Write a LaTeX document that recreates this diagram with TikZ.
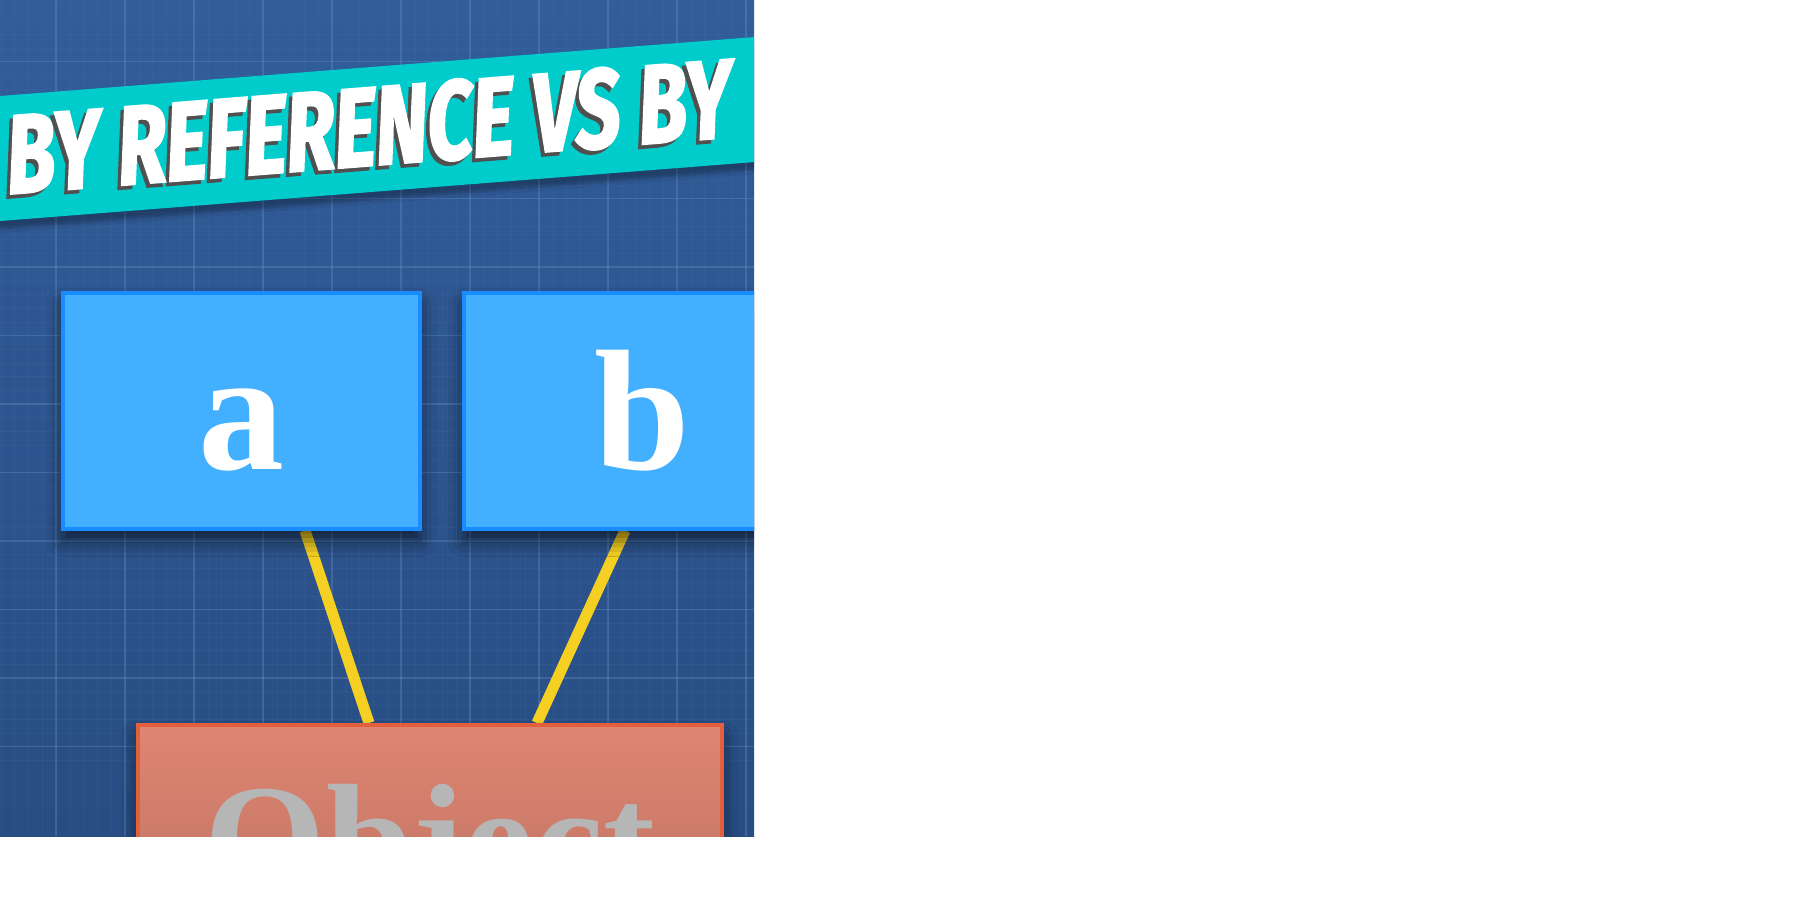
\documentclass[tikz,border=0pt]{standalone}
\usepackage{fontspec}
\usepackage{tikz}
\usetikzlibrary{
  positioning,
  calc,
  backgrounds,
  shadows.blur
}
\setmainfont{Liberation Serif}
\newfontfamily\bannerfont{Fira Sans}[FakeStretch=0.7,FakeSlant=0.12,FakeBold=2]
\definecolor{paneltop}{RGB}{49,93,153}
\definecolor{panelbot}{RGB}{40,77,132}
\definecolor{gridline}{RGB}{110,150,200}
\definecolor{bannerteal}{RGB}{0,204,204}
\definecolor{textshade}{RGB}{80,80,80}
\definecolor{boxblue}{RGB}{66,176,255}
\definecolor{boxedge}{RGB}{25,140,255}
\definecolor{linkyellow}{RGB}{245,208,35}
\definecolor{objtop}{RGB}{222,134,114}
\definecolor{objbot}{RGB}{182,108,94}
\definecolor{objedge}{RGB}{226,96,62}
\definecolor{objtext}{RGB}{182,182,182}

\begin{document}
\begin{tikzpicture}[x=0.5pt,y=-0.5pt,
  var/.style ={draw=boxedge,line width=2pt,fill=boxblue,minimum width=178.5pt,
               minimum height=118pt,inner sep=0pt,text=white,
               font=\fontsize{86}{86}\selectfont\bfseries,
               blur shadow={shadow xshift=0pt,shadow yshift=-6pt,
                            shadow blur radius=8pt,shadow opacity=60}},
  obj/.style ={draw=objedge,line width=2pt,top color=objtop,bottom color=objbot,
               minimum width=292pt,minimum height=130pt,inner sep=0pt,text=objtext,
               font=\fontsize{78}{78}\selectfont\bfseries,
               blur shadow={shadow xshift=0pt,shadow yshift=-6pt,
                            shadow blur radius=8pt,shadow opacity=60}},
  link/.style={draw=linkyellow,line width=5.5pt},
  banner/.style={font=\bannerfont\bfseries\fontsize{56}{56}\selectfont,
                 rotate=4.5,inner sep=0pt},
  minorgrid/.style={draw=gridline,line width=0.3pt,opacity=0.08},
  majorgrid/.style={draw=gridline,line width=0.7pt,opacity=0.3},
]
\useasboundingbox (0,0) rectangle (1802,917);

% boxes
\begin{scope}
  \clip (0,0) rectangle (754,836);
  \node[var] (a)   at (241.5,410.5) {a\vphantom{b}};
  \node[var] (b)   at (642.5,410.5) {b};
  \node[obj] (obj) at (430,855)     {Object};
\end{scope}

\begin{scope}[on background layer]
  \fill[white] (0,0) rectangle (1802,917);
\end{scope}

\begin{scope}[on background layer]
  \clip (0,0) rectangle (754,836);
  \shade[top color=paneltop,bottom color=panelbot] (0,0) rectangle (754,836);
  % blueprint grid
  \foreach \k in {0,...,56}{
    \draw[minorgrid] ({-13+\k*13.8},0) -- ++(0,836);
    \draw[minorgrid] (0,{-7+\k*13.7}) -- ++(754,0);
  }
  \foreach \k in {0,...,11}{
    \draw[majorgrid] ({-13+\k*69},0) -- ++(0,836);
    \draw[majorgrid] (0,{-7+\k*68.5}) -- ++(754,0);
  }
  % title band
  \fill[bannerteal,blur shadow={shadow xshift=0pt,shadow yshift=-4pt,shadow opacity=30}]
    (-5,96.4) -- (760,36.6) -- (760,161.6) -- (-5,221.4) -- cycle;
  \node[banner,text=textshade] (titleshade) at (361.5,131) {BY REFERENCE VS BY};
  \node[banner,text=white]     (title)      at (365,127) {BY REFERENCE VS BY};
  % links
  \draw[link] ([xshift=31.75pt]a.south) -- ([xshift=-30.5pt]obj.north);
  \draw[link] ([xshift=-8.75pt]b.south) -- ([xshift=53.5pt]obj.north);
\end{scope}
\end{tikzpicture}
\end{document}
